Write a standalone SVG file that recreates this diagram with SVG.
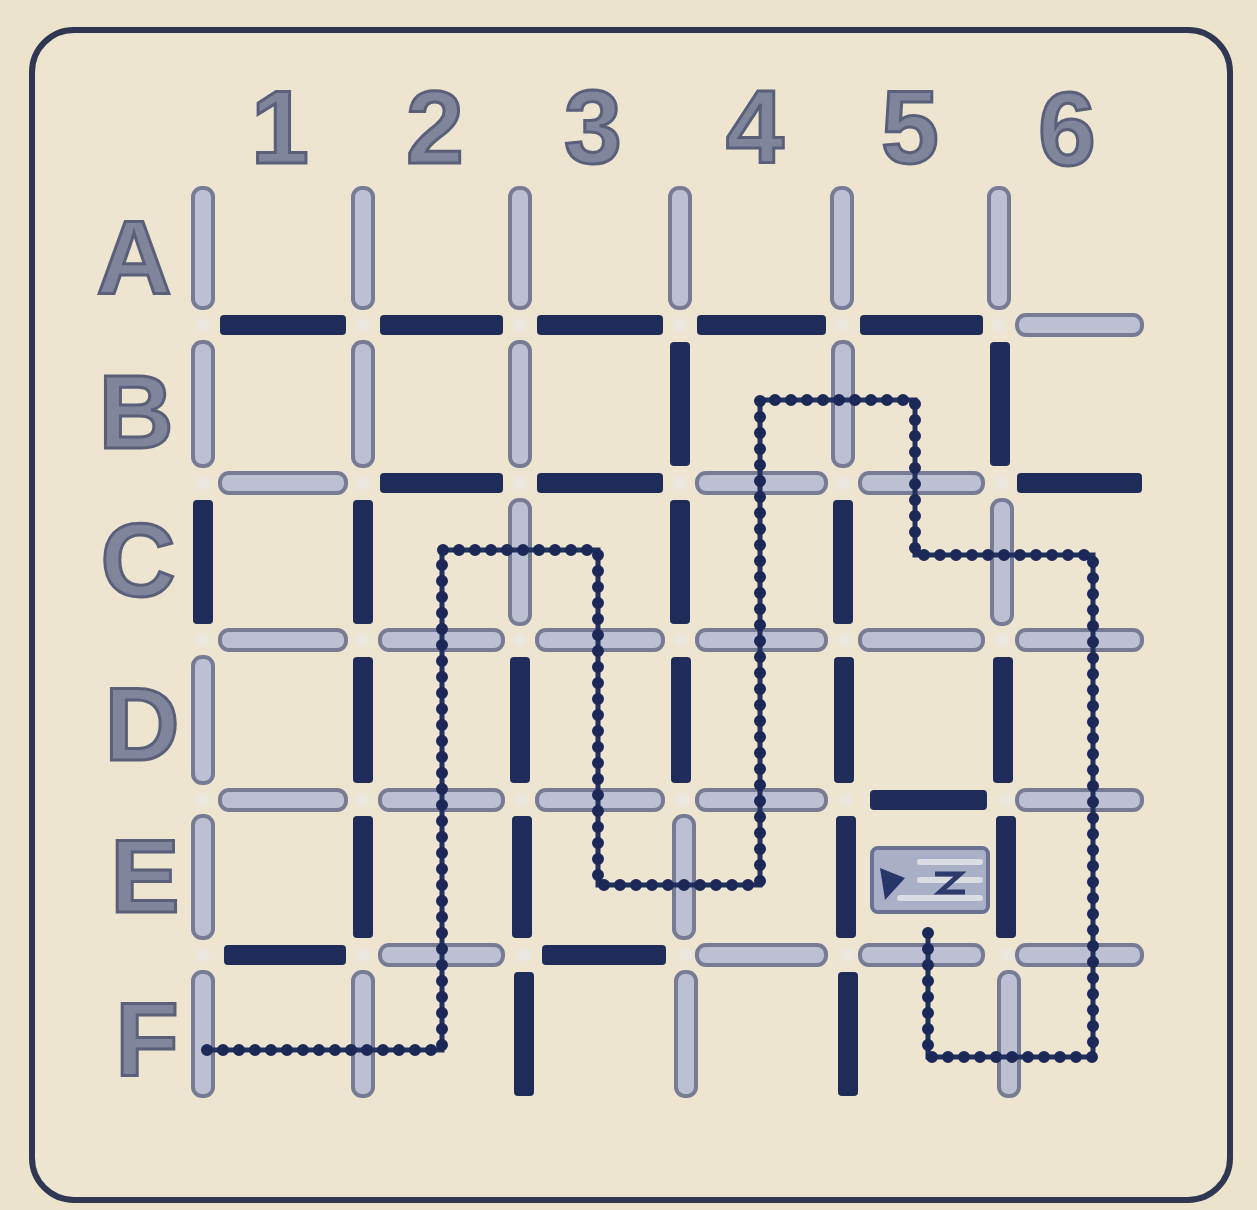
<svg xmlns="http://www.w3.org/2000/svg" width="1257" height="1210" viewBox="0 0 1257 1210">
<style>
.bg{fill:#ece3cc}
.frame{fill:#ede5d0;stroke:#2f3752;stroke-width:6}
.lab{font-family:"Liberation Sans",Arial,sans-serif;font-weight:bold;font-size:104px;fill:#80859c;stroke:#5b607a;stroke-width:3;text-anchor:middle}
.l{fill:#bcc0d2;stroke:#777c94;stroke-width:4}
.d{fill:#1f2c5a}
.dot{fill:#e9e7de}
.path-line{fill:none;stroke:#22305e;stroke-width:5;stroke-linejoin:miter}
.path-dots{fill:none;stroke:#1b2858;stroke-width:12;stroke-linecap:round;stroke-dasharray:0 16}
</style>
<rect class="bg" x="0" y="0" width="1257" height="1210"/>
<rect class="frame" x="32" y="30" width="1198" height="1170" rx="42"/>

<g id="column-labels">
<text class="lab" x="280" y="163">1</text>
<text class="lab" x="435" y="163">2</text>
<text class="lab" x="593" y="163">3</text>
<text class="lab" x="755" y="163">4</text>
<text class="lab" x="910" y="163">5</text>
<text class="lab" x="1067" y="165">6</text>
</g>
<g id="row-labels">
<text class="lab" x="134" y="293">A</text>
<text class="lab" x="136" y="448">B</text>
<text class="lab" x="138" y="596">C</text>
<text class="lab" x="142" y="760">D</text>
<text class="lab" x="145" y="912">E</text>
<text class="lab" x="147" y="1075">F</text>
</g>

<g id="horizontal-walls">
<!-- y=325 -->
<rect class="d" x="220" y="315" width="126" height="20" rx="4"/>
<rect class="d" x="380" y="315" width="123" height="20" rx="4"/>
<rect class="d" x="537" y="315" width="126" height="20" rx="4"/>
<rect class="d" x="697" y="315" width="129" height="20" rx="4"/>
<rect class="d" x="860" y="315" width="123" height="20" rx="4"/>
<rect class="l" x="1017" y="315" width="125" height="20" rx="9"/>
<!-- y=483 -->
<rect class="l" x="220" y="473" width="126" height="20" rx="9"/>
<rect class="d" x="380" y="473" width="123" height="20" rx="4"/>
<rect class="d" x="537" y="473" width="126" height="20" rx="4"/>
<rect class="l" x="697" y="473" width="129" height="20" rx="9"/>
<rect class="l" x="860" y="473" width="123" height="20" rx="9"/>
<rect class="d" x="1017" y="473" width="125" height="20" rx="4"/>
<!-- y=640 -->
<rect class="l" x="220" y="630" width="126" height="20" rx="9"/>
<rect class="l" x="380" y="630" width="123" height="20" rx="9"/>
<rect class="l" x="537" y="630" width="126" height="20" rx="9"/>
<rect class="l" x="697" y="630" width="129" height="20" rx="9"/>
<rect class="l" x="860" y="630" width="123" height="20" rx="9"/>
<rect class="l" x="1017" y="630" width="125" height="20" rx="9"/>
<!-- y=800 -->
<rect class="l" x="220" y="790" width="126" height="20" rx="9"/>
<rect class="l" x="380" y="790" width="123" height="20" rx="9"/>
<rect class="l" x="537" y="790" width="126" height="20" rx="9"/>
<rect class="l" x="697" y="790" width="129" height="20" rx="9"/>
<rect class="d" x="870" y="790" width="117" height="20" rx="4"/>
<rect class="l" x="1017" y="790" width="125" height="20" rx="9"/>
<!-- y=955 -->
<rect class="d" x="224" y="945" width="122" height="20" rx="4"/>
<rect class="l" x="380" y="945" width="123" height="20" rx="9"/>
<rect class="d" x="542" y="945" width="124" height="20" rx="4"/>
<rect class="l" x="697" y="945" width="129" height="20" rx="9"/>
<rect class="l" x="860" y="945" width="123" height="20" rx="9"/>
<rect class="l" x="1017" y="945" width="125" height="20" rx="9"/>
</g>

<g id="vertical-walls">
<!-- x=203 -->
<rect class="l" x="193" y="188" width="20" height="120" rx="9"/>
<rect class="l" x="193" y="342" width="20" height="124" rx="9"/>
<rect class="d" x="193" y="500" width="20" height="124" rx="4"/>
<rect class="l" x="193" y="657" width="20" height="126" rx="9"/>
<rect class="l" x="193" y="816" width="20" height="122" rx="9"/>
<rect class="l" x="193" y="972" width="20" height="124" rx="9"/>
<!-- x=363 -->
<rect class="l" x="353" y="188" width="20" height="120" rx="9"/>
<rect class="l" x="353" y="342" width="20" height="124" rx="9"/>
<rect class="d" x="353" y="500" width="20" height="124" rx="4"/>
<rect class="d" x="353" y="657" width="20" height="126" rx="4"/>
<rect class="d" x="353" y="816" width="20" height="122" rx="4"/>
<rect class="l" x="353" y="972" width="20" height="124" rx="9"/>
<!-- x=520 -->
<rect class="l" x="510" y="188" width="20" height="120" rx="9"/>
<rect class="l" x="510" y="342" width="20" height="124" rx="9"/>
<rect class="l" x="510" y="500" width="20" height="124" rx="9"/>
<rect class="d" x="510" y="657" width="20" height="126" rx="4"/>
<rect class="d" x="512" y="816" width="20" height="122" rx="4"/>
<rect class="d" x="514" y="972" width="20" height="124" rx="4"/>
<!-- x=680 -->
<rect class="l" x="670" y="188" width="20" height="120" rx="9"/>
<rect class="d" x="670" y="342" width="20" height="124" rx="4"/>
<rect class="d" x="670" y="500" width="20" height="124" rx="4"/>
<rect class="d" x="671" y="657" width="20" height="126" rx="4"/>
<rect class="l" x="674" y="816" width="20" height="122" rx="9"/>
<rect class="l" x="676" y="972" width="20" height="124" rx="9"/>
<!-- x=843 -->
<rect class="l" x="832" y="188" width="20" height="120" rx="9"/>
<rect class="l" x="833" y="342" width="20" height="124" rx="9"/>
<rect class="d" x="833" y="500" width="20" height="124" rx="4"/>
<rect class="d" x="834" y="657" width="20" height="126" rx="4"/>
<rect class="d" x="836" y="816" width="20" height="122" rx="4"/>
<rect class="d" x="838" y="972" width="20" height="124" rx="4"/>
<!-- x=1000 -->
<rect class="l" x="989" y="188" width="20" height="120" rx="9"/>
<rect class="d" x="990" y="342" width="20" height="124" rx="4"/>
<rect class="l" x="992" y="500" width="20" height="124" rx="9"/>
<rect class="d" x="993" y="657" width="20" height="126" rx="4"/>
<rect class="d" x="996" y="816" width="20" height="122" rx="4"/>
<rect class="l" x="999" y="972" width="20" height="124" rx="9"/>
</g>

<g id="intersections">
<circle class="dot" cx="203" cy="325" r="7"/><circle class="dot" cx="363" cy="325" r="7"/><circle class="dot" cx="520" cy="325" r="7"/><circle class="dot" cx="680" cy="325" r="7"/><circle class="dot" cx="842" cy="325" r="7"/><circle class="dot" cx="999" cy="325" r="7"/>
<circle class="dot" cx="203" cy="483" r="7"/><circle class="dot" cx="363" cy="483" r="7"/><circle class="dot" cx="520" cy="483" r="7"/><circle class="dot" cx="680" cy="483" r="7"/><circle class="dot" cx="843" cy="483" r="7"/><circle class="dot" cx="1001" cy="483" r="7"/>
<circle class="dot" cx="203" cy="640" r="7"/><circle class="dot" cx="363" cy="640" r="7"/><circle class="dot" cx="520" cy="640" r="7"/><circle class="dot" cx="681" cy="640" r="7"/><circle class="dot" cx="844" cy="640" r="7"/><circle class="dot" cx="1003" cy="640" r="7"/>
<circle class="dot" cx="203" cy="800" r="7"/><circle class="dot" cx="363" cy="800" r="7"/><circle class="dot" cx="522" cy="800" r="7"/><circle class="dot" cx="683" cy="800" r="7"/><circle class="dot" cx="846" cy="800" r="7"/><circle class="dot" cx="1006" cy="800" r="7"/>
<circle class="dot" cx="203" cy="955" r="7"/><circle class="dot" cx="363" cy="955" r="7"/><circle class="dot" cx="524" cy="955" r="7"/><circle class="dot" cx="686" cy="955" r="7"/><circle class="dot" cx="848" cy="955" r="7"/><circle class="dot" cx="1008" cy="955" r="7"/>
</g>

<g id="goal-icon">
<rect x="872" y="848" width="116" height="64" rx="6" fill="#a9afc7" stroke="#6a7192" stroke-width="4"/>
<path d="M920 862 H980 M920 880 H980 M900 898 H980" stroke="#dcdde4" stroke-width="6" stroke-linecap="round"/>
<path d="M880 868 L905 878 L885 900 Z" fill="#27366a"/>
<path d="M935 874 L960 874 L940 892 L965 892" fill="none" stroke="#2d3b6c" stroke-width="5"/>
</g>

<g id="connectors">
<path class="path-line" d="M207 1050 H442 V550 H598 V885 H760 V400 H915 V555 H1093 V1057 H928 V930"/>
<path class="path-dots" d="M207 1050 H442 V550 H598 V885 H760 V400 H915 V555 H1093 V1057 H928 V930"/>
</g>
</svg>
